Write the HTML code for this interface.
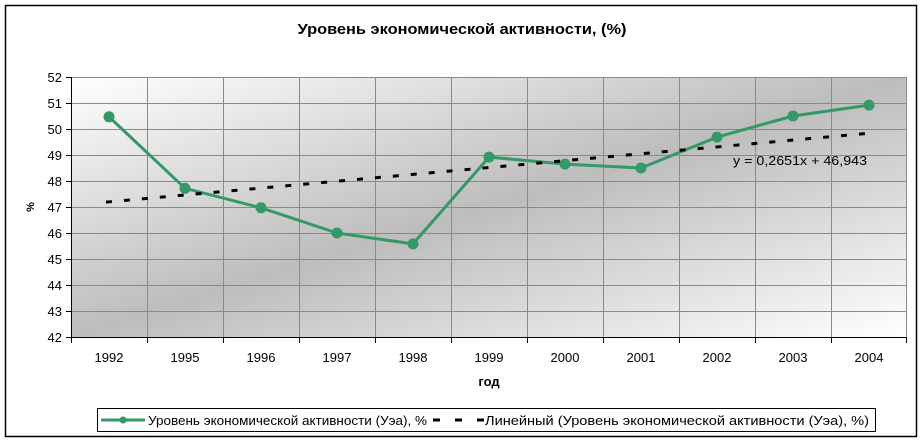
<!DOCTYPE html>
<html><head><meta charset="utf-8"><style>
html,body{margin:0;padding:0;background:#fff;}
svg{display:block;}
text{font-family:"Liberation Sans",Arial,sans-serif;fill:#000;}
</style></head><body>
<svg width="924" height="442" viewBox="0 0 924 442" xmlns="http://www.w3.org/2000/svg">
<defs>
<linearGradient id="g" x1="0" y1="0" x2="1" y2="1">
<stop offset="0" stop-color="#ffffff"/>
<stop offset="0.5" stop-color="#bdbdbd"/>
<stop offset="1" stop-color="#ffffff"/>
</linearGradient>
</defs>
<rect x="0" y="0" width="924" height="442" fill="#fff"/>
<rect x="5.5" y="5.5" width="911" height="431" fill="#fff" stroke="#000" stroke-width="1.5"/>
<text x="462" y="34" font-size="15" font-weight="bold" text-anchor="middle" textLength="329" lengthAdjust="spacingAndGlyphs">Уровень экономической активности, (%)</text>
<rect x="71" y="77" width="836" height="260" fill="url(#g)"/>
<g stroke="#8a8a8a" stroke-width="1">
<line x1="71" y1="77.5" x2="907" y2="77.5"/>
<line x1="71" y1="103.5" x2="907" y2="103.5"/>
<line x1="71" y1="129.5" x2="907" y2="129.5"/>
<line x1="71" y1="155.5" x2="907" y2="155.5"/>
<line x1="71" y1="181.5" x2="907" y2="181.5"/>
<line x1="71" y1="207.5" x2="907" y2="207.5"/>
<line x1="71" y1="233.5" x2="907" y2="233.5"/>
<line x1="71" y1="259.5" x2="907" y2="259.5"/>
<line x1="71" y1="285.5" x2="907" y2="285.5"/>
<line x1="71" y1="311.5" x2="907" y2="311.5"/>
<line x1="147.5" y1="77" x2="147.5" y2="337"/>
<line x1="223.5" y1="77" x2="223.5" y2="337"/>
<line x1="299.5" y1="77" x2="299.5" y2="337"/>
<line x1="375.5" y1="77" x2="375.5" y2="337"/>
<line x1="451.5" y1="77" x2="451.5" y2="337"/>
<line x1="527.5" y1="77" x2="527.5" y2="337"/>
<line x1="603.5" y1="77" x2="603.5" y2="337"/>
<line x1="679.5" y1="77" x2="679.5" y2="337"/>
<line x1="755.5" y1="77" x2="755.5" y2="337"/>
<line x1="831.5" y1="77" x2="831.5" y2="337"/>
<line x1="906.5" y1="77" x2="906.5" y2="337"/>
</g>
<g stroke="#000" stroke-width="1">
<line x1="71.5" y1="77" x2="71.5" y2="338"/>
<line x1="66" y1="337.5" x2="907" y2="337.5"/>
<line x1="66" y1="77.5" x2="71" y2="77.5"/>
<line x1="66" y1="103.5" x2="71" y2="103.5"/>
<line x1="66" y1="129.5" x2="71" y2="129.5"/>
<line x1="66" y1="155.5" x2="71" y2="155.5"/>
<line x1="66" y1="181.5" x2="71" y2="181.5"/>
<line x1="66" y1="207.5" x2="71" y2="207.5"/>
<line x1="66" y1="233.5" x2="71" y2="233.5"/>
<line x1="66" y1="259.5" x2="71" y2="259.5"/>
<line x1="66" y1="285.5" x2="71" y2="285.5"/>
<line x1="66" y1="311.5" x2="71" y2="311.5"/>
<line x1="71.5" y1="337" x2="71.5" y2="343"/>
<line x1="147.5" y1="337" x2="147.5" y2="343"/>
<line x1="223.5" y1="337" x2="223.5" y2="343"/>
<line x1="299.5" y1="337" x2="299.5" y2="343"/>
<line x1="375.5" y1="337" x2="375.5" y2="343"/>
<line x1="451.5" y1="337" x2="451.5" y2="343"/>
<line x1="527.5" y1="337" x2="527.5" y2="343"/>
<line x1="603.5" y1="337" x2="603.5" y2="343"/>
<line x1="679.5" y1="337" x2="679.5" y2="343"/>
<line x1="755.5" y1="337" x2="755.5" y2="343"/>
<line x1="831.5" y1="337" x2="831.5" y2="343"/>
<line x1="906.5" y1="337" x2="906.5" y2="343"/>
</g>
<g font-size="13" text-anchor="end">
<text x="62" y="82">52</text>
<text x="62" y="108">51</text>
<text x="62" y="134">50</text>
<text x="62" y="160">49</text>
<text x="62" y="186">48</text>
<text x="62" y="212">47</text>
<text x="62" y="238">46</text>
<text x="62" y="264">45</text>
<text x="62" y="290">44</text>
<text x="62" y="316">43</text>
<text x="62" y="342">42</text>
</g>
<g font-size="13" text-anchor="middle">
<text x="109" y="362">1992</text>
<text x="185" y="362">1995</text>
<text x="261" y="362">1996</text>
<text x="337" y="362">1997</text>
<text x="413" y="362">1998</text>
<text x="489" y="362">1999</text>
<text x="565" y="362">2000</text>
<text x="641" y="362">2001</text>
<text x="717" y="362">2002</text>
<text x="793" y="362">2003</text>
<text x="869" y="362">2004</text>
</g>
<text x="489" y="386" font-size="13" font-weight="bold" text-anchor="middle">год</text>
<text x="0" y="0" font-size="11" font-weight="bold" text-anchor="middle" transform="translate(34,207) rotate(-90)">%</text>
<polyline fill="none" stroke="#339966" stroke-width="3" stroke-linejoin="round" points="109,116.8 185,188.3 261,207.8 337,233 413,243.9 489,157.1 565,164.1 641,168 717,137.1 793,116 869,105.1"/>
<g fill="#339966">
<circle cx="109" cy="116.8" r="5.5"/>
<circle cx="185" cy="188.3" r="5.5"/>
<circle cx="261" cy="207.8" r="5.5"/>
<circle cx="337" cy="233" r="5.5"/>
<circle cx="413" cy="243.9" r="5.5"/>
<circle cx="489" cy="157.1" r="5.5"/>
<circle cx="565" cy="164.1" r="5.5"/>
<circle cx="641" cy="168" r="5.5"/>
<circle cx="717" cy="137.1" r="5.5"/>
<circle cx="793" cy="116" r="5.5"/>
<circle cx="869" cy="105.1" r="5.5"/>
</g>
<line x1="106" y1="202.1" x2="869" y2="133.2" stroke="#000" stroke-width="3" stroke-dasharray="6 12"/>
<text x="733" y="165" font-size="13" textLength="134" lengthAdjust="spacingAndGlyphs">y = 0,2651x + 46,943</text>
<rect x="97.5" y="408.5" width="778" height="23" fill="#fff" stroke="#000" stroke-width="1"/>
<line x1="101" y1="420" x2="145" y2="420" stroke="#339966" stroke-width="3"/>
<circle cx="123" cy="420" r="3.5" fill="#339966"/>
<text x="148" y="425" font-size="13" textLength="279" lengthAdjust="spacingAndGlyphs">Уровень экономической активности (Уэа), %</text>
<line x1="433" y1="420" x2="484" y2="420" stroke="#000" stroke-width="3" stroke-dasharray="7 15"/>
<text x="485" y="425" font-size="13" textLength="384" lengthAdjust="spacingAndGlyphs">Линейный (Уровень экономической активности (Уэа), %)</text>
</svg>
</body></html>
